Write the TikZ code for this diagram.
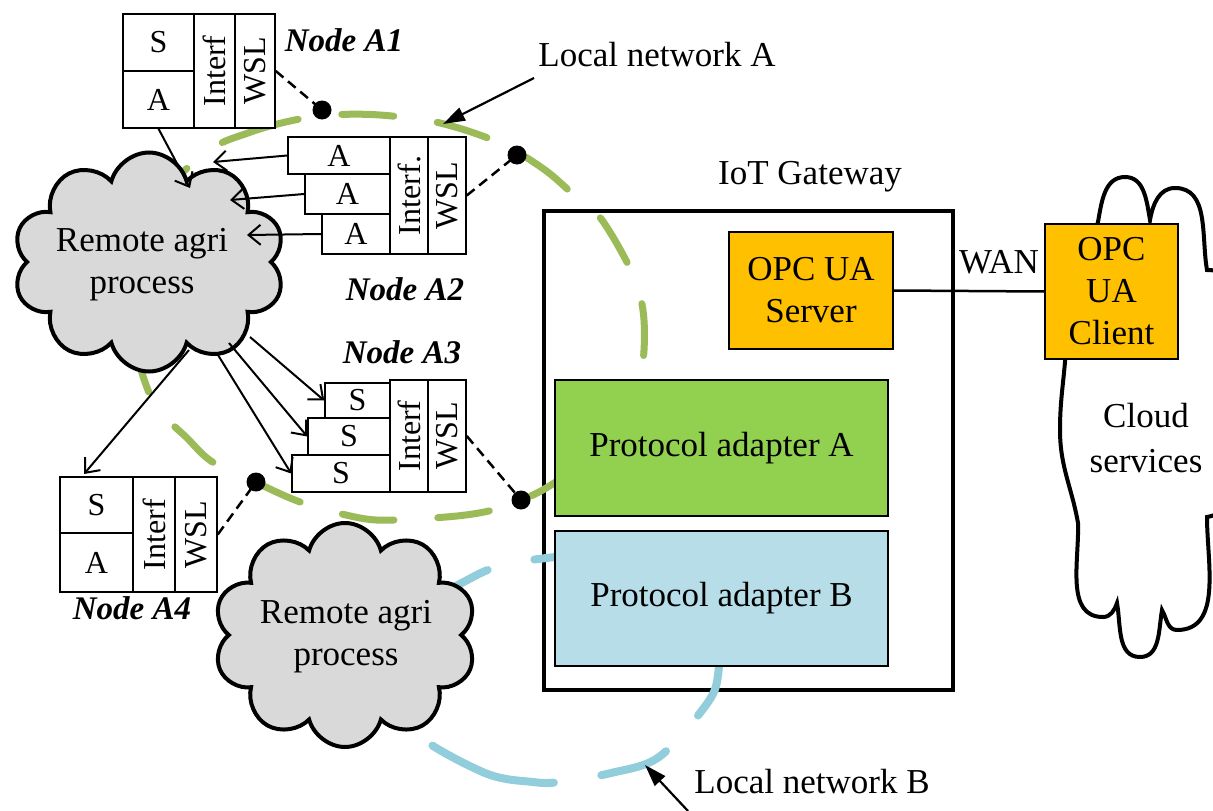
\documentclass[tikz,border=0pt]{standalone}
\usepackage{fontspec}
\setmainfont{Liberation Serif}
\usetikzlibrary{arrows.meta,shapes.symbols}
\definecolor{orng}{HTML}{FFC000}
\definecolor{grn}{HTML}{92D050}
\definecolor{lblue}{HTML}{B7DEE8}
\definecolor{cgray}{HTML}{D9D9D9}
\definecolor{netA}{HTML}{9BBB59}
\definecolor{netB}{HTML}{92CDDC}
\begin{document}
\begin{tikzpicture}[x=1pt,y=1pt,yscale=-1,
  big/.style={font=\fontsize{35}{42}\selectfont},
  cell/.style={draw,line width=1.5pt,fill=white,inner sep=0pt,font=\fontsize{32}{38}\selectfont},
  lbl/.style={font=\fontsize{33}{40}\selectfont\bfseries\itshape},
  blk/.style={draw,line width=1.5pt,inner sep=0pt,align=center,font=\fontsize{35}{42}\selectfont},
  cloudy/.style={cloud,cloud puffs=10,cloud ignores aspect,draw,line width=4pt,fill=cgray,inner sep=0pt},
  dotnode/.style={circle,fill=black,minimum size=19pt,inner sep=0pt},
  dashline/.style={line width=2.5pt,dash pattern=on 10pt off 6pt},
  arr/.style={line width=2pt,-{Straight Barb[length=12pt,width=20pt,line width=2pt]}},
  netarr/.style={line width=2.2pt,-{Triangle[length=22pt,width=14pt]}},
  netline/.style={line width=7pt,line cap=round,dash pattern=on 52pt off 44pt},
]
\useasboundingbox (0,0) rectangle (1213,811);
\clip (0,0) rectangle (1213,811);

% IoT gateway box
\node[draw,line width=4pt,fill=white,minimum width=409pt,minimum height=479pt,inner sep=0pt] (gw) at (748.5,450.5) {};

% local networks
\draw[netline,netA] plot[smooth cycle,tension=0.55] coordinates {
 (207,152) (248,133) (290,121) (330,115) (380,115) (440,123) (500,143) (545,170)
 (577,198) (602,220) (633,275) (644,320) (640,380) (615,440) (551,485) (521,500)
 (493,510) (457,516) (396,520) (360,518) (303,503) (257,483) (214,463) (189,440)
 (150,395) (128,300) (150,210)};
\draw[netline,netB,line width=8pt,dash pattern=on 70pt off 48pt] plot[smooth cycle,tension=0.55] coordinates {
 (415,733) (485,773) (533,782) (560,782) (611,773) (659,757) (706,705) (718,675)
 (716,625) (680,578) (600,556) (518,562) (473,577) (410,620) (395,690)};

% gateway contents
\node[blk,fill=orng,minimum width=164pt,minimum height=117pt] (srv) at (811,290.5) {OPC UA\\Server};
\node[blk,fill=grn,minimum width=333pt,minimum height=136pt] (pa) at (721.5,448) {Protocol adapter A};
\node[blk,fill=lblue,minimum width=333pt,minimum height=135pt] (pb) at (721.5,598.5) {Protocol adapter B};

% clouds
\node[cloudy,minimum width=272pt,minimum height=219pt] (c1) at (149,262) {};
\node[big,align=center] (c1t) at (142,265) {Remote agri\\process};
\node[cloudy,minimum width=263pt,minimum height=224pt] (c2) at (345,635) {};
\node[big,align=center] (c2t) at (346,637) {Remote agri\\process};

% Node A1
\node[cell,minimum width=71pt,minimum height=57pt] (a1s) at (158.5,42.5) {S};
\node[cell,minimum width=71pt,minimum height=57pt] (a1a) at (158.5,99.5) {A};
\node[cell,minimum width=41pt,minimum height=114pt] (a1i) at (214.5,71) {\rotatebox{90}{Interf}};
\node[cell,minimum width=40pt,minimum height=114pt] (a1w) at (255,71) {\rotatebox{90}{WSL}};
\node[lbl] (la1) at (344,40) {Node A1};

% Node A2
\node[cell,minimum width=102pt,minimum height=37pt] (a2a1) at (339,155.5) {A};
\node[cell,minimum width=85pt,minimum height=40pt] (a2a2) at (347.5,194) {A};
\node[cell,minimum width=68pt,minimum height=40pt] (a2a3) at (356,234) {A};
\node[cell,minimum width=38pt,minimum height=117pt] (a2i) at (409,195.5) {\rotatebox{90}{Interf.}};
\node[cell,minimum width=38pt,minimum height=117pt] (a2w) at (447,195.5) {\rotatebox{90}{WSL}};
\node[lbl] (la2) at (405,289) {Node A2};

% Node A3
\node[cell,minimum width=65pt,minimum height=35pt] (a3s1) at (357.5,400.5) {S};
\node[cell,minimum width=82pt,minimum height=37pt] (a3s2) at (349,436.5) {S};
\node[cell,minimum width=98pt,minimum height=37pt] (a3s3) at (341,473.5) {S};
\node[cell,minimum width=38pt,minimum height=112pt] (a3i) at (409,436) {\rotatebox{90}{Interf}};
\node[cell,minimum width=38pt,minimum height=112pt] (a3w) at (447,436) {\rotatebox{90}{WSL}};
\node[lbl] (la3) at (402,352) {Node A3};

% Node A4
\node[cell,minimum width=73pt,minimum height=56pt] (a4s) at (96.5,505) {S};
\node[cell,minimum width=73pt,minimum height=59pt] (a4a) at (96.5,562.5) {A};
\node[cell,minimum width=42pt,minimum height=115pt] (a4i) at (154,534.5) {\rotatebox{90}{Interf}};
\node[cell,minimum width=42pt,minimum height=115pt] (a4w) at (196,534.5) {\rotatebox{90}{WSL}};
\node[lbl] (la4) at (132,608) {Node A4};

% dots and dashed links
\node[dotnode] (d1) at (322,110) {};
\node[dotnode] (d2) at (517,155) {};
\node[dotnode] (d3) at (521,500) {};
\node[dotnode] (d4) at (256,482) {};
\draw[dashline] (a1w.east) -- (d1.center);
\draw[dashline] (a2w.east) -- (d2.center);
\draw[dashline] (a3w.east) -- (d3.center);
\draw[dashline] (a4w.east) -- (d4.center);

% arrows between nodes and cloud
\coordinate (p1) at (190,188);
\coordinate (p2) at (213,162);
\coordinate (p3) at (230,200);
\coordinate (p4) at (247,235);
\coordinate (q1) at (250,337);
\coordinate (q2) at (229,343);
\coordinate (q3) at (218,355);
\coordinate (q4) at (189,350);
\coordinate (p5) at (84,474);
\draw[arr] (a1a.south) -- (p1);
\draw[arr] (a2a1.west) -- (p2);
\draw[arr] (a2a2.west) -- (p3);
\draw[arr] (a2a3.west) -- (p4);
\draw[arr] (q1) -- (a3s1.west);
\draw[arr] (q2) -- (a3s2.west);
\draw[arr] (q3) -- (a3s3.west);
\draw[arr] (q4) -- (p5);

% cloud services
\draw[line width=4pt,fill=white] (1065,362) to[out=95,in=-90] (1060,430)
  to[out=90,in=-100] (1078,523) to[out=88,in=180] (1103,617)
  to[out=0,in=110] (1117,603) to[out=80,in=180] (1140,657)
  to[out=0,in=100] (1162,610) to[out=60,in=180] (1177,630)
  to[out=0,in=90] (1207,517) to[out=-10,in=90] (1240,400)
  to[out=-90,in=0] (1207,270) to[out=-100,in=0] (1175,188)
  to[out=180,in=-80] (1150,220) to[out=-100,in=0] (1125,177)
  to[out=180,in=-80] (1098,222) -- (1070,300) -- cycle;
\node[big,align=center,font=\fontsize{35}{45}\selectfont] (cs) at (1146,438) {Cloud\\services};
\node[blk,fill=orng,minimum width=133pt,minimum height=135pt] (cli) at (1111.5,291.5) {OPC\\UA\\Client};
\draw[line width=2.5pt] (srv.east) -- (cli.west);
\node[big] (wan) at (999,262) {WAN};

% labels
\node[big] (gwl) at (810,177) {IoT Gateway};
\node[big] (lna) at (657,55) {Local network A};
\node[big] (lnb) at (812,782) {Local network B};
\coordinate (lnaS) at (534,78);
\coordinate (lnaT) at (443,124);
\coordinate (lnbS) at (688,811);
\coordinate (lnbT) at (645,765);
\draw[netarr] (lnaS) -- (lnaT);
\draw[netarr] (lnbS) -- (lnbT);
\end{tikzpicture}
\end{document}
